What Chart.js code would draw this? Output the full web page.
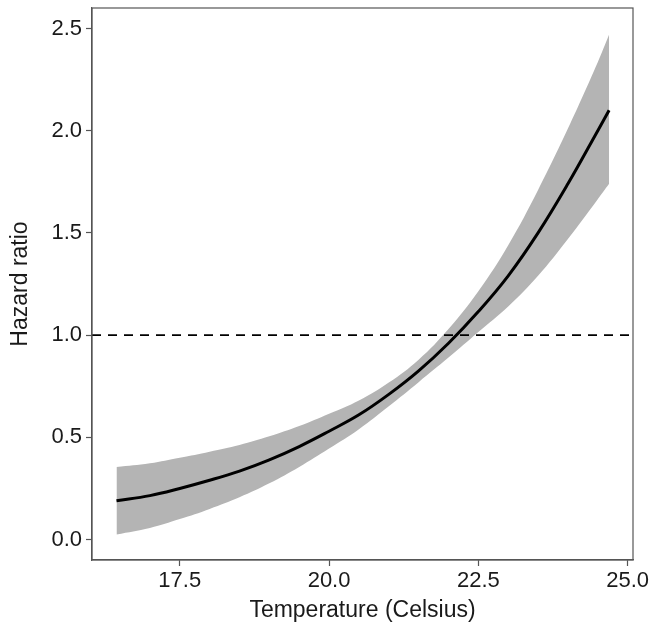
<!DOCTYPE html>
<html>
<head>
<meta charset="utf-8">
<script src="https://cdn.jsdelivr.net/npm/chart.js@4.4.1/dist/chart.umd.min.js"></script>
<style>
  body { margin: 0; background: #fff; }
  #wrap { width: 650px; height: 632px; }
</style>
</head>
<body>
<div id="wrap"><canvas id="hr" width="650" height="632"></canvas></div>
<script>
// Temperature grid and hazard ratio readings (curve + 95% band)
const temps = [16.44, 17.0, 17.5, 18.0, 18.5, 19.0, 19.5, 20.0, 20.5, 21.0, 21.5, 22.0, 22.5, 23.0, 23.5, 24.0, 24.5, 24.69];
const hazard = [0.19, 0.215, 0.25, 0.29, 0.335, 0.39, 0.455, 0.53, 0.61, 0.71, 0.825, 0.96, 1.115, 1.29, 1.50, 1.74, 2.00, 2.10];
const upper = [0.355, 0.373, 0.40, 0.43, 0.463, 0.505, 0.555, 0.615, 0.68, 0.768, 0.88, 1.03, 1.215, 1.44, 1.71, 2.01, 2.335, 2.47];
const lower = [0.025, 0.057, 0.10, 0.15, 0.207, 0.275, 0.355, 0.445, 0.54, 0.652, 0.77, 0.89, 1.015, 1.14, 1.29, 1.47, 1.665, 1.74];

const refLevel = 1.0;
const xTicks = [17.5, 20.0, 22.5, 25.0];
const yTicks = [0.0, 0.5, 1.0, 1.5, 2.0, 2.5];
const xRange = [16.03, 25.09];
const yRange = [-0.1, 2.6];

const pts = (ys) => temps.map((t, i) => ({ x: t, y: ys[i] }));
const band = 'rgb(180,180,180)';
const textCol = '#1a1a1a';
const axisCol = '#555';
const tickFont = { family: '"Liberation Sans", Arial, sans-serif', size: 22 };
const titleFont = { family: '"Liberation Sans", Arial, sans-serif', size: 23 };

// draw the panel border on all four sides
const panelBox = {
    id: 'panelBox',
    afterDatasetsDraw(chart) {
        const a = chart.chartArea;
        const ctx = chart.ctx;
        ctx.save();
        ctx.strokeStyle = axisCol;
        ctx.lineWidth = 1.2;
        ctx.strokeRect(a.left, a.top, a.right - a.left, a.bottom - a.top);
        ctx.restore();
    }
};

new Chart(document.getElementById('hr'), {
    type: 'line',
    data: {
        datasets: [
            {
                label: 'upper',
                data: pts(upper),
                borderWidth: 0,
                pointRadius: 0,
                backgroundColor: band,
                fill: '+1',
                tension: 0.4,
                order: 3
            },
            {
                label: 'lower',
                data: pts(lower),
                borderWidth: 0,
                pointRadius: 0,
                backgroundColor: band,
                fill: false,
                tension: 0.4,
                order: 3
            },
            {
                label: 'Hazard ratio',
                data: pts(hazard),
                borderColor: '#000',
                borderWidth: 3,
                pointRadius: 0,
                fill: false,
                tension: 0.4,
                order: 1
            },
            {
                label: 'reference',
                data: [{ x: xRange[0], y: refLevel }, { x: xRange[1], y: refLevel }],
                borderColor: '#000',
                borderWidth: 1.8,
                borderDash: [9, 7],
                pointRadius: 0,
                fill: false,
                order: 0
            }
        ]
    },
    options: {
        responsive: false,
        animation: false,
        layout: { padding: { left: 0, right: 17, top: 8, bottom: 0 } },
        plugins: { legend: { display: false }, tooltip: { enabled: false } },
        scales: {
            x: {
                type: 'linear',
                min: xRange[0],
                max: xRange[1],
                afterBuildTicks: (s) => { s.ticks = xTicks.map(v => ({ value: v })); },
                afterFit: (s) => { s.height = 72; s.paddingLeft = 0; s.paddingRight = 0; },
                grid: { drawOnChartArea: false, tickLength: 6, color: axisCol, tickWidth: 1.2 },
                border: { color: axisCol, width: 1.2 },
                ticks: { color: textCol, font: tickFont, padding: 2, maxRotation: 0, callback: v => v.toFixed(1) },
                title: { display: true, text: 'Temperature (Celsius)', color: textCol, font: titleFont, padding: { top: 0, bottom: 8 } }
            },
            y: {
                min: yRange[0],
                max: yRange[1],
                afterBuildTicks: (s) => { s.ticks = yTicks.map(v => ({ value: v })); },
                afterFit: (s) => { s.width = 92; s.paddingTop = 0; s.paddingBottom = 0; },
                grid: { drawOnChartArea: false, tickLength: 6, color: axisCol, tickWidth: 1.2 },
                border: { color: axisCol, width: 1.2 },
                ticks: { color: textCol, font: tickFont, padding: 4, callback: v => v.toFixed(1) },
                title: { display: true, text: 'Hazard ratio', color: textCol, font: titleFont, padding: { top: 7, bottom: 0 } }
            }
        }
    },
    plugins: [panelBox]
});
</script>
</body>
</html>
